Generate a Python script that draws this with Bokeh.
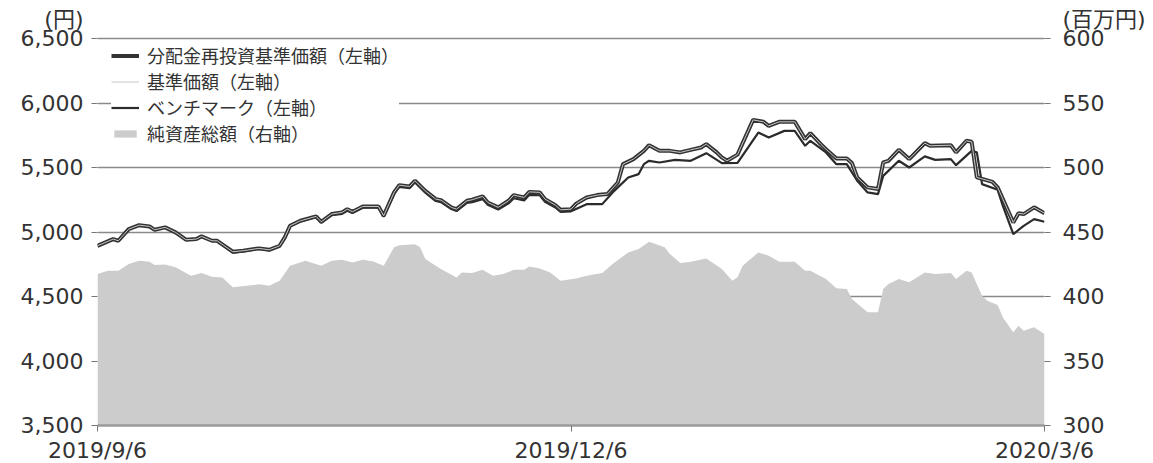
import pandas as pd
from bokeh.plotting import figure
from bokeh.models import (Range1d, LinearAxis, FixedTicker, CustomJSTickFormatter,
                          Legend, LegendItem)
from bokeh.embed import file_html
from bokeh.resources import INLINE

# ---------------- data ----------------
reinv_dates = ["2019-09-06", "2019-09-09", "2019-09-10", "2019-09-12", "2019-09-14", "2019-09-16",
               "2019-09-17", "2019-09-19", "2019-09-21", "2019-09-23", "2019-09-25", "2019-09-26",
               "2019-09-28", "2019-09-29", "2019-10-02", "2019-10-04", "2019-10-07", "2019-10-09",
               "2019-10-11", "2019-10-12", "2019-10-13", "2019-10-15", "2019-10-18", "2019-10-19",
               "2019-10-21", "2019-10-23", "2019-10-24", "2019-10-25", "2019-10-27", "2019-10-30",
               "2019-10-31", "2019-11-02", "2019-11-03", "2019-11-05", "2019-11-06", "2019-11-08",
               "2019-11-10", "2019-11-11", "2019-11-13", "2019-11-14", "2019-11-16", "2019-11-17",
               "2019-11-19", "2019-11-20", "2019-11-22", "2019-11-24", "2019-11-25", "2019-11-27",
               "2019-11-28", "2019-11-30", "2019-12-01", "2019-12-03", "2019-12-04", "2019-12-06",
               "2019-12-07", "2019-12-09", "2019-12-11", "2019-12-13", "2019-12-15", "2019-12-16",
               "2019-12-18", "2019-12-20", "2019-12-21", "2019-12-23", "2019-12-25", "2019-12-27",
               "2019-12-29", "2019-12-31", "2020-01-01", "2020-01-03", "2020-01-04", "2020-01-05",
               "2020-01-07", "2020-01-10", "2020-01-12", "2020-01-13", "2020-01-15", "2020-01-18",
               "2020-01-20", "2020-01-21", "2020-01-23", "2020-01-24", "2020-01-26", "2020-01-28",
               "2020-01-29", "2020-01-30", "2020-02-01", "2020-02-03", "2020-02-04", "2020-02-05",
               "2020-02-07", "2020-02-09", "2020-02-12", "2020-02-13", "2020-02-17", "2020-02-18",
               "2020-02-20", "2020-02-21", "2020-02-22", "2020-02-25", "2020-02-26", "2020-02-27",
               "2020-02-29", "2020-03-01", "2020-03-02", "2020-03-04", "2020-03-06"]
reinv_nav = [4893, 4945, 4932, 5022, 5053, 5043, 5017, 5036, 4997, 4940, 4945, 4966,
             4932, 4932, 4847, 4855, 4873, 4862, 4893, 4958, 5048, 5087, 5121, 5079,
             5139, 5152, 5177, 5157, 5198, 5198, 5126, 5307, 5363, 5353, 5397, 5319,
             5255, 5247, 5191, 5177, 5242, 5250, 5276, 5229, 5191, 5242, 5286, 5268,
             5311, 5307, 5255, 5208, 5172, 5177, 5220, 5268, 5286, 5294, 5384, 5526,
             5565, 5629, 5673, 5629, 5629, 5617, 5637, 5655, 5681, 5617, 5578, 5552,
             5600, 5869, 5854, 5823, 5854, 5854, 5720, 5766, 5681, 5642, 5570, 5570,
             5534, 5423, 5346, 5333, 5539, 5552, 5637, 5565, 5689, 5668, 5673, 5617,
             5707, 5699, 5423, 5389, 5346, 5255, 5074, 5146, 5139, 5191, 5146]
# 基準価額 (no distributions paid -> same values as the reinvested series)
nav_dates = list(reinv_dates)
nav = list(reinv_nav)

bench_dates = ["2019-09-06", "2019-09-09", "2019-09-10", "2019-09-12", "2019-09-14", "2019-09-16",
               "2019-09-17", "2019-09-19", "2019-09-21", "2019-09-23", "2019-09-25", "2019-09-26",
               "2019-09-28", "2019-09-29", "2019-10-02", "2019-10-04", "2019-10-07", "2019-10-09",
               "2019-10-11", "2019-10-12", "2019-10-13", "2019-10-15", "2019-10-18", "2019-10-19",
               "2019-10-21", "2019-10-23", "2019-10-24", "2019-10-25", "2019-10-27", "2019-10-30",
               "2019-10-31", "2019-11-02", "2019-11-03", "2019-11-05", "2019-11-06", "2019-11-08",
               "2019-11-10", "2019-11-11", "2019-11-13", "2019-11-14", "2019-11-16", "2019-11-17",
               "2019-11-19", "2019-11-20", "2019-11-22", "2019-11-24", "2019-11-25", "2019-11-27",
               "2019-11-28", "2019-11-30", "2019-12-01", "2019-12-03", "2019-12-04", "2019-12-06",
               "2019-12-09", "2019-12-12", "2019-12-14", "2019-12-17", "2019-12-19", "2019-12-20",
               "2019-12-21", "2019-12-23", "2019-12-26", "2019-12-29", "2020-01-01", "2020-01-04",
               "2020-01-07", "2020-01-11", "2020-01-13", "2020-01-16", "2020-01-18", "2020-01-20",
               "2020-01-21", "2020-01-24", "2020-01-26", "2020-01-28", "2020-01-30", "2020-02-01",
               "2020-02-03", "2020-02-04", "2020-02-05", "2020-02-07", "2020-02-09", "2020-02-12",
               "2020-02-14", "2020-02-17", "2020-02-18", "2020-02-21", "2020-02-22", "2020-02-23",
               "2020-02-26", "2020-02-27", "2020-02-29", "2020-03-02", "2020-03-04", "2020-03-06"]
bench = [4893, 4945, 4932, 5022, 5053, 5043, 5017, 5036, 4997, 4940, 4945, 4966,
         4932, 4932, 4840, 4850, 4868, 4858, 4890, 4955, 5045, 5082, 5115, 5072,
         5130, 5140, 5165, 5148, 5188, 5190, 5118, 5295, 5350, 5340, 5385, 5305,
         5240, 5232, 5178, 5162, 5225, 5232, 5255, 5212, 5175, 5222, 5262, 5245,
         5288, 5285, 5235, 5190, 5155, 5160, 5216, 5216, 5307, 5423, 5449, 5526,
         5552, 5539, 5559, 5552, 5611, 5534, 5535, 5771, 5733, 5784, 5784, 5668,
         5707, 5617, 5526, 5526, 5397, 5307, 5294, 5435, 5474, 5552, 5500, 5586,
         5559, 5565, 5518, 5629, 5617, 5371, 5327, 5203, 4984, 5048, 5100, 5079]

aum_dates = ["2019-09-06", "2019-09-08", "2019-09-10", "2019-09-12", "2019-09-14", "2019-09-16",
             "2019-09-17", "2019-09-19", "2019-09-21", "2019-09-23", "2019-09-24", "2019-09-26",
             "2019-09-28", "2019-09-30", "2019-10-02", "2019-10-07", "2019-10-09", "2019-10-11",
             "2019-10-13", "2019-10-16", "2019-10-17", "2019-10-19", "2019-10-21", "2019-10-23",
             "2019-10-25", "2019-10-27", "2019-10-29", "2019-10-31", "2019-11-02", "2019-11-03",
             "2019-11-06", "2019-11-07", "2019-11-08", "2019-11-10", "2019-11-11", "2019-11-14",
             "2019-11-15", "2019-11-17", "2019-11-19", "2019-11-21", "2019-11-23", "2019-11-25",
             "2019-11-27", "2019-11-28", "2019-11-30", "2019-12-02", "2019-12-04", "2019-12-07",
             "2019-12-09", "2019-12-12", "2019-12-14", "2019-12-17", "2019-12-19", "2019-12-21",
             "2019-12-24", "2019-12-25", "2019-12-27", "2019-12-29", "2020-01-01", "2020-01-04",
             "2020-01-06", "2020-01-07", "2020-01-08", "2020-01-11", "2020-01-13", "2020-01-15",
             "2020-01-18", "2020-01-20", "2020-01-21", "2020-01-24", "2020-01-26", "2020-01-28",
             "2020-01-29", "2020-02-01", "2020-02-03", "2020-02-04", "2020-02-05", "2020-02-07",
             "2020-02-09", "2020-02-12", "2020-02-14", "2020-02-17", "2020-02-18", "2020-02-20",
             "2020-02-21", "2020-02-23", "2020-02-24", "2020-02-26", "2020-02-27", "2020-02-29",
             "2020-03-01", "2020-03-02", "2020-03-04", "2020-03-06"]
aum = [417.4, 420.0, 420.0, 425.1, 427.7, 426.9, 424.4, 424.9, 422.6, 418.2, 416.1, 418.2,
       415.3, 414.8, 407.1, 409.4, 408.3, 412.2, 423.8, 427.7, 426.4, 423.8, 427.7, 428.5,
       426.4, 428.5, 427.2, 423.8, 438.1, 439.8, 440.6, 438.1, 429.0, 423.8, 421.3, 414.8,
       418.7, 418.2, 420.7, 416.1, 417.4, 420.7, 420.7, 423.3, 421.8, 418.7, 412.2, 414.0,
       416.1, 418.2, 425.1, 434.2, 436.8, 442.4, 438.1, 432.9, 425.9, 426.9, 429.5, 421.3,
       412.2, 415.0, 423.8, 434.2, 431.6, 426.9, 426.9, 419.9, 419.9, 413.5, 406.3, 405.8,
       398.0, 387.7, 387.7, 405.8, 409.6, 413.5, 411.0, 418.7, 417.4, 418.2, 413.5, 419.9,
       418.7, 400.6, 396.7, 393.4, 383.8, 372.2, 377.3, 373.5, 376.1, 370.9]

x_tick_dates = ["2019-09-06", "2019-12-06", "2020-03-06"]
left_ticks = [3500, 4000, 4500, 5000, 5500, 6000, 6500]
right_ticks = [300, 350, 400, 450, 500, 550, 600]
series_labels = ["分配金再投資基準価額（左軸）", "基準価額（左軸）", "ベンチマーク（左軸）", "純資産総額（右軸）"]
unit_left = "(円)"
unit_right = "(百万円)"

# ---------------- layout constants ----------------
FRAME_W, FRAME_H = 947, 412
HEADROOM_PX = 25          # blank strip above the top gridline that holds the unit captions
UNIT_PX = 6               # unit caption centre, px below the frame top
PLOT_PX = FRAME_H - HEADROOM_PX
l_per_px = (left_ticks[-1] - left_ticks[0]) / PLOT_PX
r_per_px = (right_ticks[-1] - right_ticks[0]) / PLOT_PX
l_top = left_ticks[-1] + HEADROOM_PX * l_per_px
r_top = right_ticks[-1] + HEADROOM_PX * r_per_px
l_unit_pos = l_top - UNIT_PX * l_per_px
r_unit_pos = r_top - UNIT_PX * r_per_px


def ts(s):
    return pd.Timestamp(s)


def ms(s):
    return pd.Timestamp(s).value // 10**6


NUM_FONT = "DejaVu Sans, Noto Sans CJK JP"
JP_FONT = "Liberation Sans, Noto Sans CJK JP"
TXT = "#333333"

p = figure(x_axis_type="datetime", frame_width=FRAME_W, frame_height=FRAME_H,
           min_border_left=97, min_border_right=100, min_border_top=13, min_border_bottom=36,
           x_range=Range1d(ts(x_tick_dates[0]), ts(x_tick_dates[-1])),
           y_range=Range1d(left_ticks[0], l_top),
           output_backend="svg", toolbar_location=None)
p.extra_y_ranges = {"right": Range1d(right_ticks[0], r_top)}
p.outline_line_color = None
p.background_fill_color = "white"
p.border_fill_color = "white"

# area (right axis)
r_aum = p.varea(x=[ts(d) for d in aum_dates], y1=right_ticks[0], y2=aum,
                fill_color="#cccccc", y_range_name="right")
# lines (left axis)
r_bench = p.line([ts(d) for d in bench_dates], bench, line_color="#2b2b2b", line_width=2.2)
r_reinv = p.line([ts(d) for d in reinv_dates], reinv_nav, line_color="#333333", line_width=4.0)
r_nav = p.line([ts(d) for d in nav_dates], nav, line_color="#c8c8c8", line_width=1.0)

# y axes: numeric labels + unit caption on top (tick marks drawn as minor ticks)
p.yaxis.ticker = FixedTicker(ticks=left_ticks + [l_unit_pos], minor_ticks=left_ticks)
p.yaxis.formatter = CustomJSTickFormatter(args=dict(unit=unit_left, top=left_ticks[-1]), code="""
return tick > top ? unit : Math.round(tick).toLocaleString('en-US');
""")
p.ygrid.ticker = FixedTicker(ticks=left_ticks)
p.xgrid.grid_line_color = None
p.ygrid.grid_line_color = "#8a8a8a"
p.ygrid.grid_line_width = 1.3

raxis = LinearAxis(y_range_name="right",
                   ticker=FixedTicker(ticks=right_ticks + [r_unit_pos], minor_ticks=right_ticks))
raxis.formatter = CustomJSTickFormatter(args=dict(unit=unit_right, top=right_ticks[-1]), code="""
return tick > top ? unit : String(Math.round(tick));
""")
p.add_layout(raxis, "right")

p.xaxis.ticker = FixedTicker(ticks=[ms(d) for d in x_tick_dates])
p.xaxis.formatter = CustomJSTickFormatter(code="""
const d = new Date(tick);
return d.getUTCFullYear() + '/' + (d.getUTCMonth() + 1) + '/' + d.getUTCDate();
""")

for ax in [p.yaxis[0], raxis]:
    ax.axis_line_color = None
    ax.major_tick_line_color = None
    ax.major_tick_out = 6
    ax.major_tick_in = 0
    ax.minor_tick_line_color = "#777777"
    ax.minor_tick_out = 6
    ax.minor_tick_in = 0
p.yaxis[0].major_label_standoff = 8
raxis.major_label_standoff = 12
for ax in [p.xaxis[0]]:
    ax.axis_line_color = "#9a9a9a"
    ax.axis_line_width = 2.5
    ax.major_tick_line_color = "#777777"
    ax.major_tick_out = 6
    ax.major_tick_in = 0
    ax.minor_tick_line_color = None
    ax.major_label_standoff = 6
for ax in [p.yaxis[0], raxis, p.xaxis[0]]:
    ax.major_label_text_font = NUM_FONT
    ax.major_label_text_font_size = "22px"
    ax.major_label_text_color = TXT

# series legend (inside the frame)
legend = Legend(items=[LegendItem(label=series_labels[0], renderers=[r_reinv]),
                       LegendItem(label=series_labels[1], renderers=[r_nav]),
                       LegendItem(label=series_labels[2], renderers=[r_bench]),
                       LegendItem(label=series_labels[3], renderers=[r_aum])],
                location=(14, 279))
legend.margin = 0
legend.padding = 0
legend.spacing = 0
legend.glyph_width = 28
legend.glyph_height = 9
legend.label_height = 23
legend.label_standoff = 8
legend.label_text_font = JP_FONT
legend.label_text_font_size = "18px"
legend.label_text_color = TXT
legend.background_fill_color = "white"
legend.background_fill_alpha = 1.0
legend.border_line_color = None
p.add_layout(legend)

open("out.html", "w").write(file_html(p, INLINE))
